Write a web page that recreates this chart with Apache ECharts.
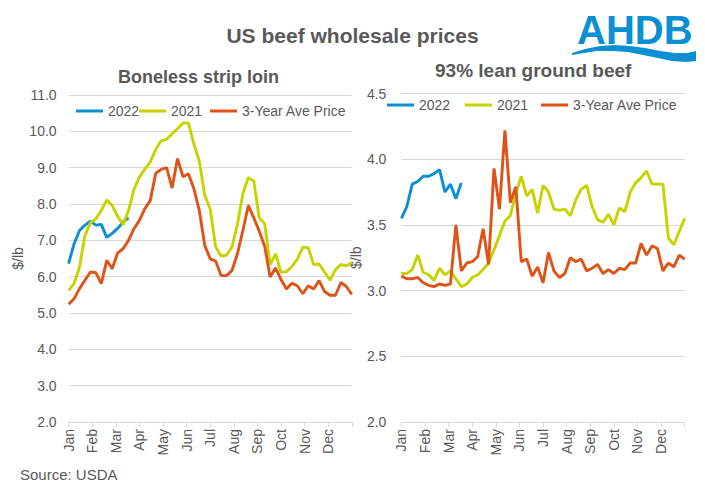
<!DOCTYPE html>
<html>
<head>
<meta charset="utf-8">
<script src="https://cdn.jsdelivr.net/npm/echarts@6/dist/echarts.min.js"></script>
<style>
html,body{margin:0;padding:0;background:#fff;}
#chart{width:705px;height:498px;}
</style>
</head>
<body>
<div id="chart"></div>
<script>
const months = ['Jan','Feb','Mar','Apr','May','Jun','Jul','Aug','Sep','Oct','Nov','Dec'];
const weeks = Array.from({length: 53}, (_, i) => 'W' + (i + 1));
const seriesNames = ['2022', '2021', '3-Year Ave Price'];

// Boneless strip loin ($/lb), weekly
const stripLoin2022 = [6.36, 6.9, 7.27, 7.42, 7.53, 7.42, 7.44, 7.08, 7.19, 7.33, 7.5, 7.62];
const stripLoin2021 = [5.62, 5.81, 6.26, 7.13, 7.48, 7.59, 7.82, 8.11, 7.96, 7.66,
  7.43, 7.82, 8.4, 8.74, 8.96, 9.16, 9.5, 9.74, 9.78, 9.93,
  10.07, 10.23, 10.23, 9.65, 9.18, 8.24, 7.86, 6.82, 6.57, 6.59,
  6.82, 7.44, 8.28, 8.73, 8.63, 7.62, 7.46, 6.33, 6.63, 6.12,
  6.14, 6.28, 6.48, 6.81, 6.80, 6.33, 6.35, 6.12, 5.90, 6.19,
  6.33, 6.30, 6.39];
const stripLoinAvg = [5.24, 5.39, 5.67, 5.90, 6.13, 6.11, 5.81, 6.45, 6.22, 6.65,
  6.77, 7.00, 7.32, 7.55, 7.87, 8.10, 8.85, 8.95, 9.00, 8.44,
  9.25, 8.75, 8.83, 8.42, 7.82, 6.86, 6.49, 6.43, 6.03, 6.03,
  6.17, 6.63, 7.27, 7.96, 7.62, 7.25, 6.84, 5.99, 6.24, 5.92,
  5.66, 5.82, 5.75, 5.53, 5.75, 5.66, 5.89, 5.59, 5.49, 5.49,
  5.84, 5.73, 5.51];

// 93% lean ground beef ($/lb), weekly
const groundBeef2022 = [3.55, 3.64, 3.81, 3.83, 3.87, 3.87, 3.89, 3.92, 3.75, 3.81, 3.70, 3.82];
const groundBeef2021 = [3.13, 3.13, 3.16, 3.27, 3.14, 3.12, 3.08, 3.17, 3.12, 3.15,
  3.09, 3.03, 3.05, 3.10, 3.12, 3.16, 3.21, 3.31, 3.42, 3.53,
  3.57, 3.74, 3.87, 3.72, 3.77, 3.59, 3.80, 3.75, 3.62, 3.61,
  3.62, 3.57, 3.69, 3.77, 3.80, 3.64, 3.54, 3.52, 3.58, 3.50,
  3.63, 3.60, 3.75, 3.82, 3.86, 3.91, 3.81, 3.81, 3.81, 3.40,
  3.35, 3.45, 3.55];
const groundBeefAvg = [3.11, 3.09, 3.09, 3.10, 3.06, 3.04, 3.03, 3.05, 3.04, 3.05,
  3.50, 3.15, 3.21, 3.22, 3.26, 3.47, 3.20, 3.93, 3.62, 4.22,
  3.67, 3.79, 3.22, 3.24, 3.11, 3.18, 3.06, 3.29, 3.15, 3.10,
  3.13, 3.25, 3.22, 3.24, 3.15, 3.17, 3.20, 3.13, 3.16, 3.13,
  3.17, 3.16, 3.21, 3.21, 3.36, 3.27, 3.34, 3.32, 3.15, 3.21,
  3.18, 3.27, 3.24];

const COLORS = {'2022': '#0B8ED2', '2021': '#C6D300', '3-Year Ave Price': '#DE5418'};
const TXT = '#595959';
const GRIDC = '#D9D9D9';
const FONT = '"Liberation Sans", Arial, sans-serif';

const chart = echarts.init(document.getElementById('chart'), null, {renderer: 'svg'});

function monthAxis(gridIndex) {
  return {
    type: 'value', gridIndex: gridIndex, min: 0, max: 12, interval: 1, position: 'bottom',
    axisLine: {show: true, lineStyle: {color: GRIDC, width: 1}},
    axisTick: {show: true, length: 5, lineStyle: {color: GRIDC}},
    splitLine: {show: false},
    axisLabel: {
      rotate: 90, margin: 7, color: TXT, fontSize: 14, fontFamily: FONT,
      formatter: v => (v < 12 ? months[v] : '')
    }
  };
}
function weekAxis(gridIndex) {
  return {type: 'category', gridIndex: gridIndex, data: weeks, boundaryGap: false, show: false};
}
function valueAxis(gridIndex, min, max, interval, margin, nameGap) {
  return {
    type: 'value', gridIndex: gridIndex, min: min, max: max, interval: interval,
    name: '$/lb', nameLocation: 'middle', nameGap: nameGap,
    nameTextStyle: {color: TXT, fontSize: 14, fontFamily: FONT},
    axisLine: {show: false}, axisTick: {show: false},
    splitLine: {show: true, lineStyle: {color: GRIDC, width: 1}},
    axisLabel: {color: TXT, fontSize: 14, fontFamily: FONT, margin: margin,
      formatter: v => v.toFixed(1)}
  };
}
function lineSeries(name, data, xIdx, yIdx) {
  return {
    name: name, type: 'line', data: data, xAxisIndex: xIdx, yAxisIndex: yIdx,
    symbol: 'none', smooth: false, animation: false,
    lineStyle: {color: COLORS[name], width: 2.9},
    itemStyle: {color: COLORS[name]}
  };
}
function legendItem(name, left, top) {
  return {
    data: [name], left: left, top: top, padding: 0, itemWidth: 27, itemHeight: 3,
    icon: 'rect',
    textStyle: {color: TXT, fontSize: 14, fontFamily: FONT}
  };
}

const wavePoints = [[572,53],[585,49],[600,46],[615,45],[630,46],[645,48],[660,51],[675,53],[687,53],[696,51],
  [696,61],[686,62],[672,61],[658,58],[643,55],[628,52],[612,51],[597,51],[584,53],[572,55]];

const option = {
  backgroundColor: '#ffffff',
  animation: false,
  title: [{
    text: 'US beef wholesale prices', left: 'center', top: 25, padding: 0,
    textStyle: {color: TXT, fontSize: 21, fontWeight: 'bold', fontFamily: FONT}
  }, {
    text: 'Boneless strip loin', left: 118, top: 68, padding: 0,
    textStyle: {color: TXT, fontSize: 18, fontWeight: 'bold', fontFamily: FONT}
  }, {
    text: '93% lean ground beef', left: 435, top: 61, padding: 0,
    textStyle: {color: TXT, fontSize: 19, fontWeight: 'bold', fontFamily: FONT}
  }, {
    text: 'Source: USDA', left: 20, top: 467, padding: 0,
    textStyle: {color: TXT, fontSize: 15, fontWeight: 'normal', fontFamily: FONT}
  }],
  legend: [
    legendItem('2022', 76, 104), legendItem('2021', 139, 104), legendItem('3-Year Ave Price', 210, 104),
    legendItem('2022', 387, 98), legendItem('2021', 465, 98), legendItem('3-Year Ave Price', 541, 98)
  ],
  grid: [
    {left: 68.6, right: 705 - 351.8, top: 95, bottom: 76},
    {left: 401.4, right: 705 - 684.7, top: 93.5, bottom: 76}
  ],
  xAxis: [weekAxis(0), monthAxis(0), weekAxis(1), monthAxis(1)],
  yAxis: [valueAxis(0, 2, 11, 1, 12, 33), valueAxis(1, 2, 4.5, 0.5, 15, 26)],
  series: [
    lineSeries('2022', stripLoin2022, 0, 0),
    lineSeries('2021', stripLoin2021, 0, 0),
    lineSeries('3-Year Ave Price', stripLoinAvg, 0, 0),
    lineSeries('2022', groundBeef2022, 2, 1),
    lineSeries('2021', groundBeef2021, 2, 1),
    lineSeries('3-Year Ave Price', groundBeefAvg, 2, 1)
  ],
  graphic: [{
    type: 'text', x: 577, y: 10,
    style: {text: 'AHDB', fill: '#0A90D2', font: 'bold 40px "Liberation Sans", Arial, sans-serif'}
  }, {
    type: 'polygon',
    shape: {points: wavePoints},
    style: {fill: '#0A90D2'}
  }]
};
chart.setOption(option);
</script>
</body>
</html>
